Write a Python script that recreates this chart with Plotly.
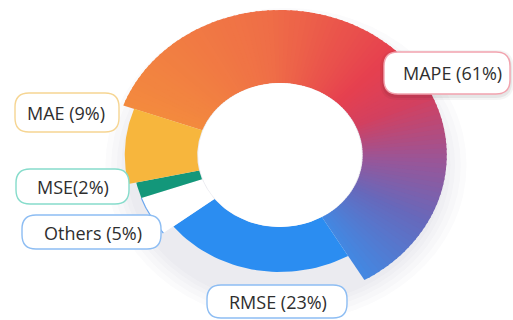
import numpy as np
import plotly.graph_objects as go
from plotly.colors import sample_colorscale

# ---------------- data ----------------
metrics = ["MAPE", "RMSE", "Others", "MSE", "MAE"]
share_pct = [61, 23, 5, 2, 9]
label_text = ["MAPE (61%)", "RMSE (23%)", "Others (5%)", "MSE(2%)", "MAE (9%)"]

# ---------------- style / geometry ----------------
W, H = 513, 320
CX, CY = 280, 155          # centre of the (perspective) donut, px
ASPECT = 1.15              # horizontal stretch of the ellipse
R_IN = 72                  # hole radius (vertical px)
START = 290                # degrees clockwise from top where MAPE starts
outer_r = {"MAPE": 145, "RMSE": 117, "Others": 128, "MSE": 128, "MAE": 135}
fill = {"RMSE": "#2B8DF1", "Others": "#FFFFFF", "MSE": "#13977A", "MAE": "#F7B63D"}
mape_scale = [[0.0, "#F38A3E"], [0.30, "#EF6E47"], [0.52, "#E6404F"],
              [0.62, "#D3405F"], [0.74, "#9A5597"], [0.86, "#6669BC"],
              [1.0, "#4388E2"]]

boxes = {  # x0, x1, y0, y1, border colour, text x, text y
    "MAPE": (384, 510, 52, 94, "#F2A3AE", 452, 73),
    "RMSE": (207, 347, 285, 318, "#8DBDF3", 278, 302),
    "Others": (22, 161, 215, 249, "#8DBDF3", 93, 233),
    "MSE": (16, 129, 169, 204, "#86DCCB", 73, 187),
    "MAE": (15, 119, 93, 132, "#F6D592", 66, 113),
}


def pt(r, deg):
    a = np.radians(deg)
    return CX + ASPECT * r * np.sin(a), CY - r * np.cos(a)


def wedge(a0, a1, r0, r1, n=40):
    ang = np.linspace(a0, a1, n)
    xo, yo = pt(r1, ang)
    xi, yi = pt(r0, ang[::-1])
    return np.concatenate([xo, xi, xo[:1]]), np.concatenate([yo, yi, yo[:1]])


fig = go.Figure()

# soft drop shadow
shapes = []
for extra in [20, 15, 10, 6, 2]:
    R = outer_r["MAPE"] + extra - 8
    shapes.append(dict(type="circle", xref="x", yref="y", layer="below",
                       x0=CX + 6 - ASPECT * R, x1=CX + 6 + ASPECT * R,
                       y0=CY + 10 - R, y1=CY + 10 + R,
                       fillcolor="rgba(60,60,80,0.018)", line=dict(width=0)))

cum = np.concatenate([[0], np.cumsum(share_pct)])
total = cum[-1]
for i, name in enumerate(metrics):
    a0 = START + cum[i] / total * 360
    a1 = START + cum[i + 1] / total * 360
    ro = outer_r[name]
    if name == "MAPE":
        n = 110
        edges = np.linspace(a0, a1, n + 1)
        cols = sample_colorscale(mape_scale, list((np.arange(n) + 0.5) / n))
        for k in range(n):
            b0 = edges[k] - (0.35 if k > 0 else 0)
            b1 = edges[k + 1] + (0.35 if k < n - 1 else 0)
            xs, ys = wedge(b0, b1, R_IN, ro, 6)
            fig.add_trace(go.Scatter(x=xs, y=ys, fill="toself", fillcolor=cols[k],
                                     mode="lines", line=dict(width=0),
                                     hoverinfo="skip", showlegend=False))
    else:
        xs, ys = wedge(a0, a1, R_IN, ro)
        fig.add_trace(go.Scatter(x=xs, y=ys, fill="toself", fillcolor=fill[name],
                                 mode="lines", line=dict(width=0),
                                 hoverinfo="skip", showlegend=False))
        if name == "Others":
            ang = np.linspace(a0, a1, 30)
            xo, yo = pt(ro, ang)
            fig.add_trace(go.Scatter(x=xo, y=yo, mode="lines",
                                     line=dict(color="#6AA6EE", width=1.2),
                                     hoverinfo="skip", showlegend=False))

# white hole
fig.add_shape(type="circle", xref="x", yref="y",
              x0=CX - ASPECT * R_IN + 1, x1=CX + ASPECT * R_IN - 1,
              y0=CY - R_IN, y1=CY + R_IN, fillcolor="white", line=dict(width=0))


def rrect(x0, x1, y0, y1, r):
    return (f"M{x0+r},{y0} L{x1-r},{y0} Q{x1},{y0} {x1},{y0+r} L{x1},{y1-r} "
            f"Q{x1},{y1} {x1-r},{y1} L{x0+r},{y1} Q{x0},{y1} {x0},{y1-r} "
            f"L{x0},{y0+r} Q{x0},{y0} {x0+r},{y0} Z")


for name, lab in zip(metrics, label_text):
    x0, x1, y0, y1, col, tx, ty = boxes[name]
    r = min(14, (y1 - y0) / 2)
    if name == "MAPE":
        for s, op in [(4, 0.04), (2, 0.06)]:
            shapes.append(dict(type="path", xref="x", yref="y",
                               path=rrect(x0 - s, x1 + s, y0 - s + 2, y1 + s + 2, r + s),
                               fillcolor=f"rgba(0,0,0,{op})", line=dict(width=0)))
    shapes.append(dict(type="path", xref="x", yref="y", path=rrect(x0, x1, y0, y1, r),
                       fillcolor="white", line=dict(color=col, width=1.4)))
    fig.add_annotation(x=tx, y=ty, xref="x", yref="y", text=lab, showarrow=False,
                       font=dict(family="Open Sans", size=18, color="#2E2E2E"))

for s in shapes:
    fig.add_shape(**s)

fig.update_layout(
    width=W, height=H, autosize=False, margin=dict(l=0, r=0, t=0, b=0),
    paper_bgcolor="white", plot_bgcolor="white", showlegend=False,
    xaxis=dict(range=[0, W], visible=False, fixedrange=True),
    yaxis=dict(range=[H, 0], visible=False, fixedrange=True),
)

fig.write_html("out.html")
